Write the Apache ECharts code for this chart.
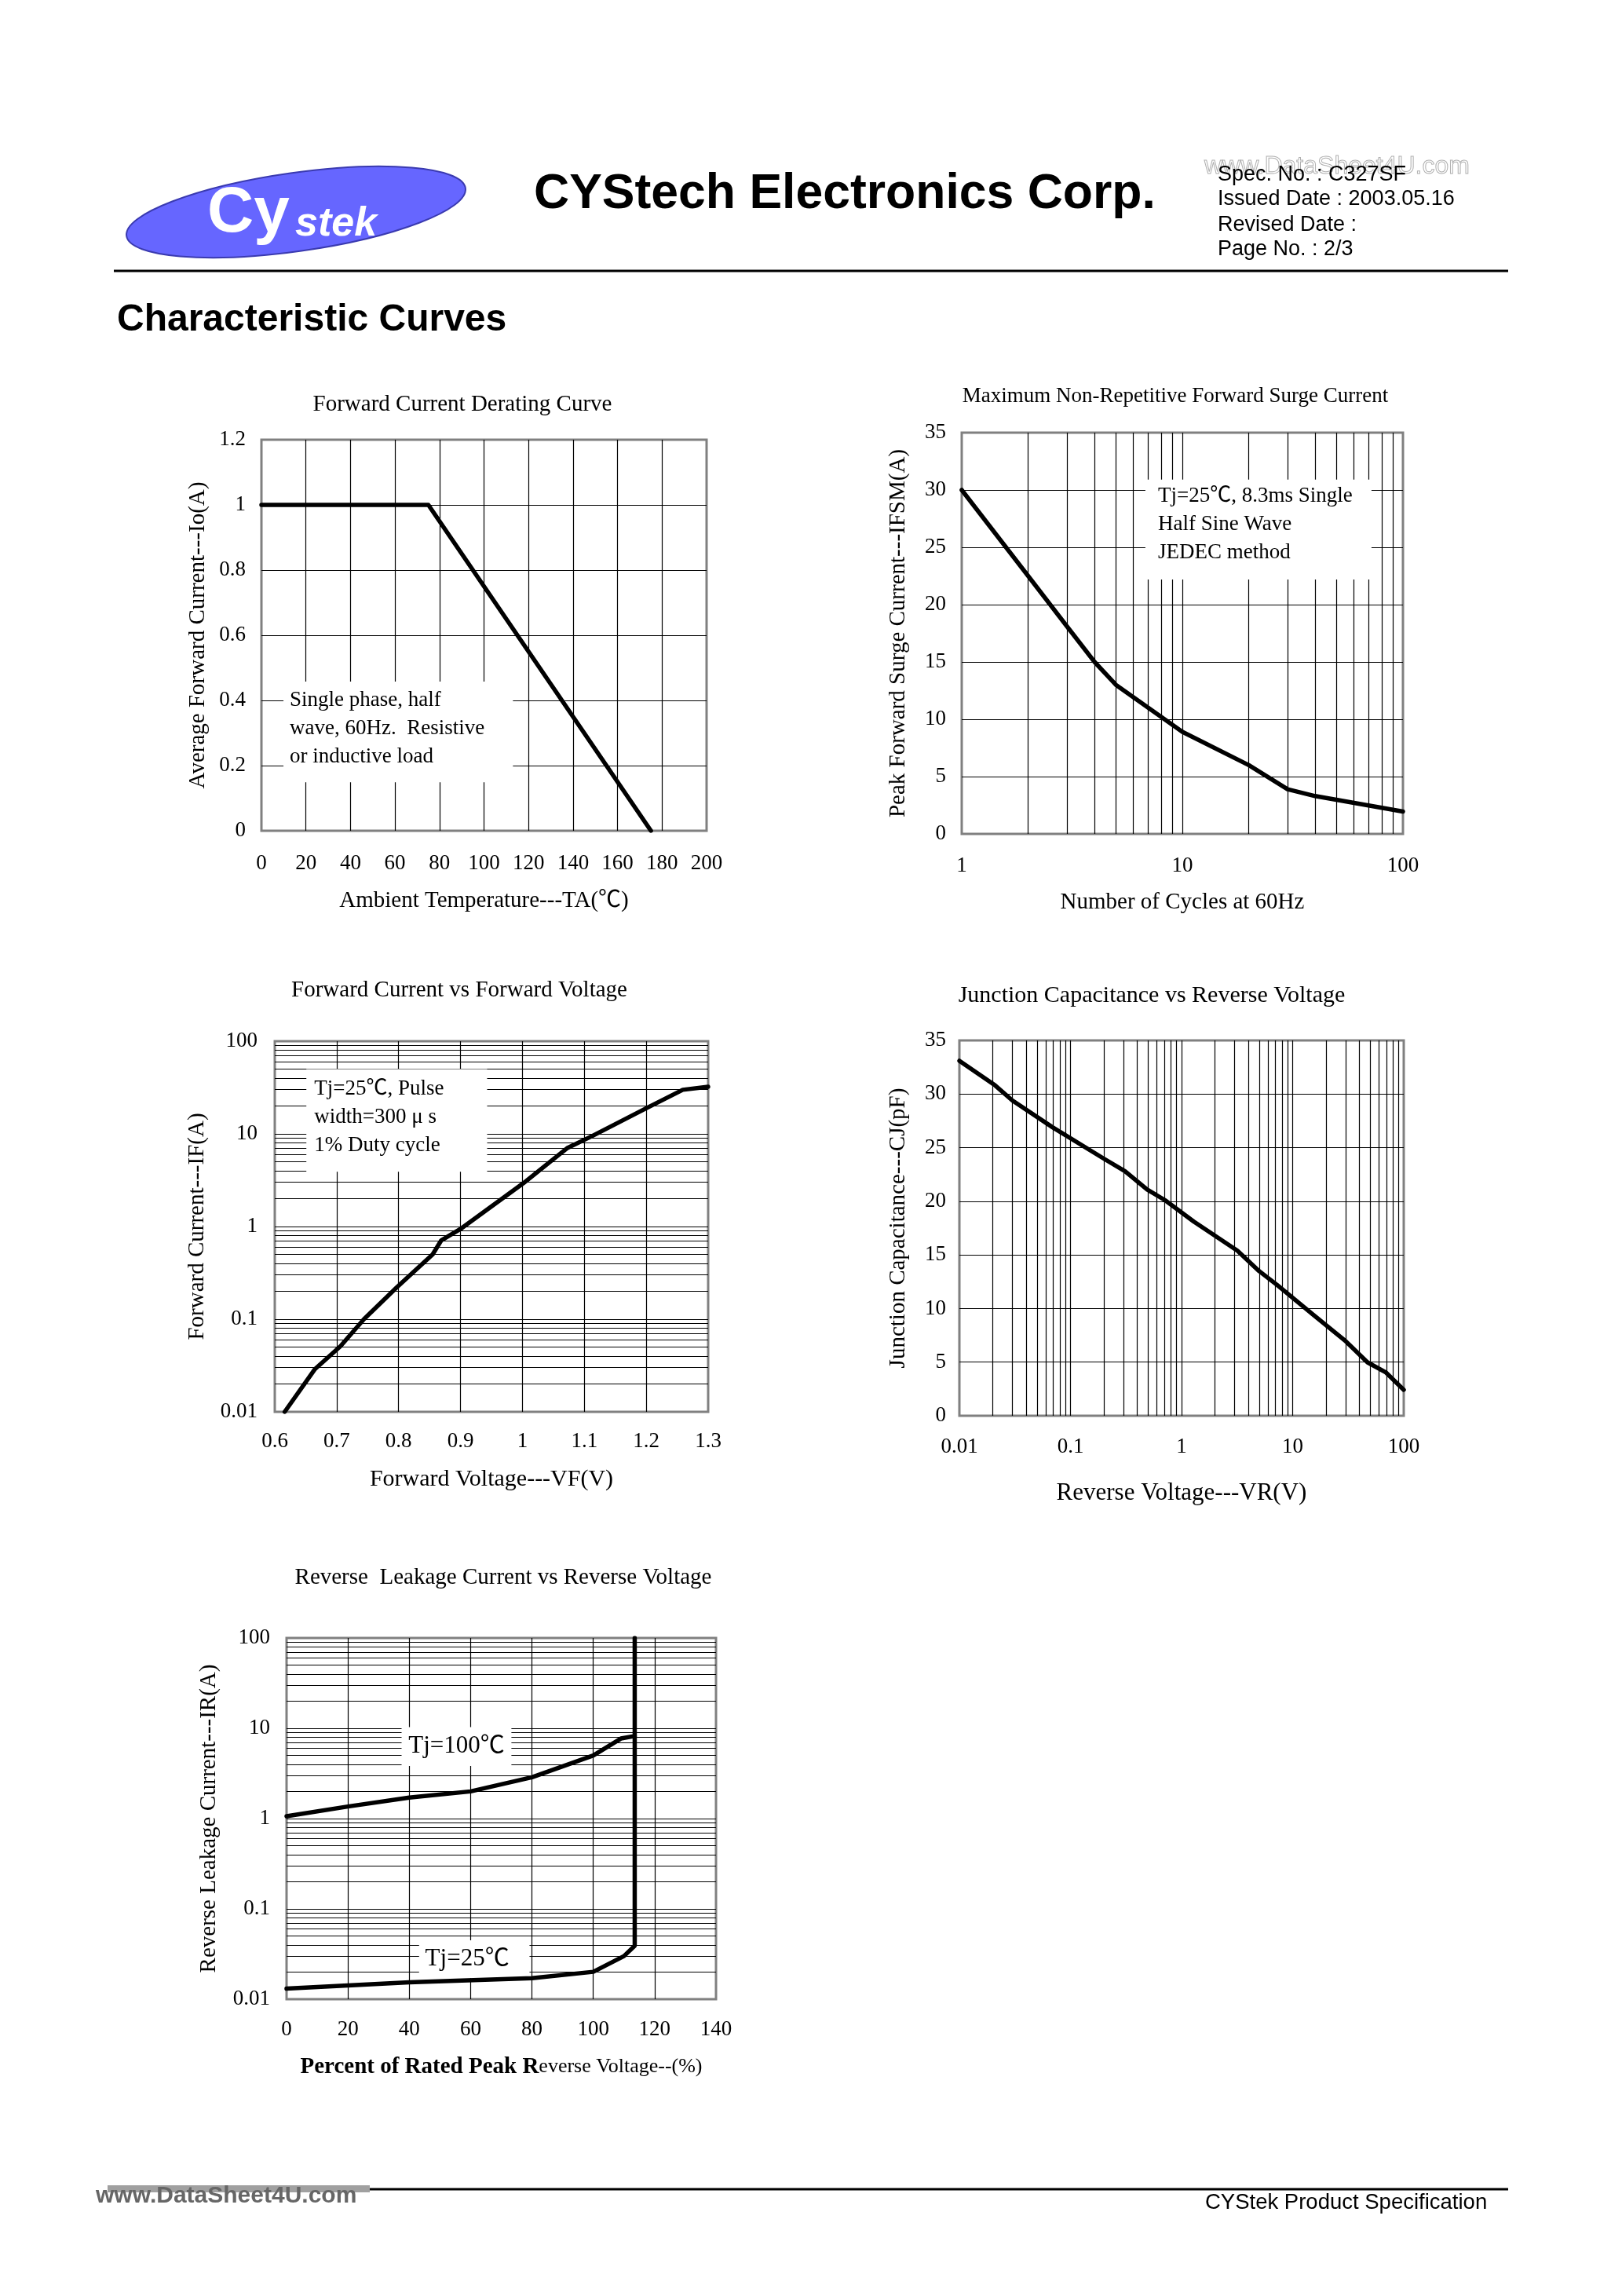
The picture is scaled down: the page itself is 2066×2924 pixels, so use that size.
<!DOCTYPE html>
<html><head><meta charset="utf-8">
<script src="https://cdn.jsdelivr.net/npm/echarts@6.0.0/dist/echarts.min.js"></script>
<style>html,body{margin:0;padding:0;background:#fff}#c{width:2066px;height:2924px}</style>
</head><body><div id="c"></div>
<script>
// ---------------- DATA ----------------
// Chart 1: Forward Current Derating Curve
const derateTemp = [0, 75, 175];
const derateCurrent = [1, 1, 0];
// Chart 2: Maximum Non-Repetitive Forward Surge Current
const surgeCycles = [1, 2, 3, 4, 5, 10, 20, 30, 40, 100];
const surgeCurrent = [30, 22.5, 18.1, 15, 13, 8.9, 6, 3.9, 3.3, 1.95];
// Chart 3: Forward Current vs Forward Voltage
const fwdVoltage = [0.616, 0.665, 0.706, 0.744, 0.797, 0.855, 0.869, 0.902, 1.002, 1.043, 1.072, 1.113, 1.2, 1.259, 1.3];
const fwdCurrent = [0.01, 0.029, 0.051, 0.10, 0.22, 0.50, 0.71, 0.96, 2.95, 4.9, 7.0, 9.5, 18.9, 29.9, 32.2];
// Chart 4: Junction Capacitance vs Reverse Voltage
const capVoltage = [0.01, 0.021, 0.03, 0.069, 0.198, 0.31, 0.49, 0.71, 1.29, 3.18, 4.98, 7.24, 15.4, 30.1, 47.2, 68.7, 100];
const capValue = [33.1, 30.8, 29.4, 26.9, 24.0, 22.8, 21.1, 20.1, 18.1, 15.4, 13.5, 12.2, 9.4, 6.94, 4.98, 4.06, 2.42];
// Chart 5: Reverse Leakage Current vs Reverse Voltage
const leakPct100 = [0, 20, 40, 60, 80, 100, 109, 113.5];
const leakIr100 = [1.06, 1.36, 1.71, 2.0, 2.87, 5.0, 7.7, 8.2];
const leakPct25 = [0, 40, 80, 100, 110, 113.5, 113.5];
const leakIr25 = [0.0131, 0.0154, 0.0171, 0.0201, 0.030, 0.039, 100];

// Texts
const chartTitles = ['Forward Current Derating Curve', 'Maximum Non-Repetitive Forward Surge Current',
  'Forward Current vs Forward Voltage', 'Junction Capacitance vs Reverse Voltage',
  'Reverse  Leakage Current vs Reverse Voltage'];
const xNames = ['Ambient Temperature---TA(℃)', 'Number of Cycles at 60Hz', 'Forward Voltage---VF(V)',
  'Reverse Voltage---VR(V)', '{a|Percent of Rated Peak R}{b|everse Voltage--(%)}'];
const yNames = ['Average Forward Current---Io(A)', 'Peak Forward Surge Current---IFSM(A)', 'Forward Current---IF(A)',
  'Junction Capacitance---CJ(pF)', 'Reverse Leakage Current---IR(A)'];
const note1 = 'Single phase, half\nwave, 60Hz.  Resistive\nor inductive load';
const note2 = 'Tj=25℃, 8.3ms Single\nHalf Sine Wave\nJEDEC method';
const note3 = 'Tj=25℃, Pulse\nwidth=300 μ s\n1% Duty cycle';
const note5a = 'Tj=100℃';
const note5b = 'Tj=25℃';

// ---------------- HELPERS ----------------
const SERIF = '"Liberation Serif", "Noto Sans CJK SC", serif';
const SANS = '"Liberation Sans", Arial, sans-serif';
const zip = (a, b) => a.map((v, i) => [v, b[i]]);
const fmtNum = v => String(+(+v).toPrecision(4));
function logMinors(lo, hi) { // exponent range
  const out = [];
  for (let e = lo; e < hi; e++) for (let m = 2; m <= 9; m++) out.push(+(m * Math.pow(10, e)).toPrecision(3));
  return out;
}
function axis(gi, o) {
  const a = {
    gridIndex: gi, type: o.type || 'value', min: o.min, max: o.max,
    axisLine: { show: false }, axisTick: { show: false },
    splitLine: { show: true, showMinLine: false, showMaxLine: false, lineStyle: { color: '#000', width: 1.2 } },
    axisLabel: { color: '#000', fontFamily: SERIF, fontSize: 27, margin: o.margin, formatter: fmtNum, showMinLabel: true, showMaxLabel: true, hideOverlap: false },
    name: o.name, nameLocation: 'middle', nameGap: o.nameGap, nameMoveOverlap: false,
    nameTextStyle: Object.assign({ color: '#000', fontFamily: SERIF, fontSize: o.nameSize || 29 }, o.nameStyle || {}),
  };
  if (o.interval !== undefined) a.interval = o.interval;
  if (o.type === 'log') a.logBase = 10;
  return a;
}
function gridLines(gi, dim, vals) {
  return {
    type: 'line', xAxisIndex: gi, yAxisIndex: gi, data: [], z: 1, silent: true,
    markLine: {
      silent: true, z: 1, symbol: ['none', 'none'], label: { show: false }, emphasis: { disabled: true },
      lineStyle: { color: '#000', width: 1.2, type: 'solid' },
      data: vals.map(v => ({ [dim]: v }))
    }
  };
}
function whiteBox(gi, boxes) {
  return {
    type: 'line', xAxisIndex: gi, yAxisIndex: gi, data: [], z: 2, silent: true,
    markArea: {
      silent: true, z: 2, emphasis: { disabled: true },
      itemStyle: { color: '#fff', opacity: 1, borderWidth: 0 },
      data: boxes.map(b => [
        { coord: b.from, label: Object.assign({ show: true, color: '#000', fontFamily: SERIF, fontSize: 27, lineHeight: 36, formatter: b.text }, b.label || {}) },
        { coord: b.to }
      ])
    }
  };
}
function curve(gi, data) {
  return {
    type: 'line', xAxisIndex: gi, yAxisIndex: gi, data: data, z: 5, silent: true,
    symbol: 'none', smooth: false, lineStyle: { color: '#000', width: 5.5, cap: 'round', join: 'round' }
  };
}

// ---------------- GRIDS ----------------
const gridBase = { show: true, borderColor: '#808080', borderWidth: 3, backgroundColor: '#fff', containLabel: false, outerBoundsMode: 'none' };
const grids = [
  Object.assign({ left: 333, top: 560, width: 567, height: 498 }, gridBase),
  Object.assign({ left: 1225, top: 551, width: 562, height: 511 }, gridBase),
  Object.assign({ left: 350, top: 1326, width: 552, height: 472 }, gridBase),
  Object.assign({ left: 1222, top: 1325, width: 566, height: 478 }, gridBase),
  Object.assign({ left: 365, top: 2086, width: 547, height: 460 }, gridBase),
];

const xAxes = [
  axis(0, { min: 0, max: 200, interval: 20, margin: 28, name: xNames[0], nameGap: 75 }),
  axis(1, { type: 'log', min: 1, max: 100, margin: 27, name: xNames[1], nameGap: 73 }),
  axis(2, { min: 0.6, max: 1.3, interval: 0.1, margin: 24, name: xNames[2], nameGap: 71, nameSize: 30 }),
  axis(3, { type: 'log', min: 0.01, max: 100, margin: 26, name: xNames[3], nameGap: 83, nameSize: 31 }),
  axis(4, { min: 0, max: 140, interval: 20, margin: 25, name: xNames[4], nameGap: 72,
    nameStyle: { rich: { a: { fontFamily: SERIF, fontSize: 29, fontWeight: 'bold', color: '#000' }, b: { fontFamily: SERIF, fontSize: 26, color: '#000' } } } }),
];
const yAxes = [
  axis(0, { min: 0, max: 1.2, interval: 0.2, margin: 20, name: yNames[0], nameGap: 66 }),
  axis(1, { min: 0, max: 35, interval: 5, margin: 20, name: yNames[1], nameGap: 66 }),
  axis(2, { type: 'log', min: 0.01, max: 100, margin: 22, name: yNames[2], nameGap: 84 }),
  axis(3, { min: 0, max: 35, interval: 5, margin: 17, name: yNames[3], nameGap: 63 }),
  axis(4, { type: 'log', min: 0.01, max: 100, margin: 21, name: yNames[4], nameGap: 84 }),
];

const series = [
  // chart 1
  whiteBox(0, [{ from: [9.9, 0.458], to: [113, 0.149], text: note1, label: { position: [8, 6] } }]),
  curve(0, zip(derateTemp, derateCurrent)),
  // chart 2
  gridLines(1, 'xAxis', logMinors(0, 2)),
  whiteBox(1, [{ from: [6.8, 30.9], to: [72, 22.2], text: note2, label: { position: [16, 3] } }]),
  curve(1, zip(surgeCycles, surgeCurrent)),
  // chart 3
  gridLines(2, 'yAxis', logMinors(-2, 2)),
  whiteBox(2, [{ from: [0.651, 50], to: [0.943, 3.9], text: note3, label: { position: [10, 7] } }]),
  curve(2, zip(fwdVoltage, fwdCurrent)),
  // chart 4
  gridLines(3, 'xAxis', logMinors(-2, 2)),
  curve(3, zip(capVoltage, capValue)),
  // chart 5
  gridLines(4, 'yAxis', logMinors(-2, 2)),
  whiteBox(4, [
    { from: [37.5, 10.3], to: [73.3, 3.82], text: note5a, label: { position: 'inside', fontSize: 31, lineHeight: 36 } },
    { from: [43.2, 0.045], to: [79.2, 0.0171], text: note5b, label: { position: 'inside', fontSize: 31, lineHeight: 36, offset: [-9, 0] } }
  ]),
  curve(4, zip(leakPct100, leakIr100)),
  curve(4, zip(leakPct25, leakIr25)),
];

// ---------------- PAGE GRAPHICS ----------------
function txt(x, y, text, font, fill, align, extra) {
  return Object.assign({ type: 'text', x: x, y: y, silent: true,
    style: { text: text, font: font, fill: fill || '#000', textAlign: align || 'left', textVerticalAlign: 'middle' } }, extra || {});
}
const graphic = [
  // logo
  { type: 'ellipse', x: 377, y: 270, rotation: 0.14, silent: true, shape: { cx: 0, cy: 0, rx: 218, ry: 50 },
    style: { fill: '#6666ff', stroke: '#3a3ab0', lineWidth: 2 } },
  txt(264, 272, 'Cy', 'bold 82px ' + SANS, '#fff'),
  txt(376, 286, 'stek', 'italic bold 52px ' + SANS, '#fff'),
  // company
  txt(680, 248, 'CYStech Electronics Corp.', 'bold 62.5px ' + SANS),
  // watermark (hollow)
  { type: 'text', x: 1534, y: 212, silent: true, style: { text: 'www.DataSheet4U.com', font: '32px ' + SANS, fill: 'none', stroke: '#b0b0b0', lineWidth: 1, textAlign: 'left', textVerticalAlign: 'middle' } },
  txt(1551, 223, 'Spec. No. : C327SF', '27px ' + SANS),
  txt(1551, 254, 'Issued Date : 2003.05.16', '27px ' + SANS),
  txt(1551, 287, 'Revised Date :', '27px ' + SANS),
  txt(1551, 318, 'Page No. : 2/3', '27px ' + SANS),
  { type: 'line', silent: true, shape: { x1: 145, y1: 345, x2: 1921, y2: 345 }, style: { stroke: '#000', lineWidth: 3 } },
  txt(149, 408, 'Characteristic Curves', 'bold 48px ' + SANS),
  // chart titles
  txt(589, 515, chartTitles[0], '29px ' + SERIF, '#000', 'center'),
  txt(1497, 505, chartTitles[1], '27px ' + SERIF, '#000', 'center'),
  txt(585, 1261, chartTitles[2], '29px ' + SERIF, '#000', 'center'),
  txt(1467, 1268, chartTitles[3], '30px ' + SERIF, '#000', 'center'),
  txt(641, 2009, chartTitles[4], '29px ' + SERIF, '#000', 'center'),
  // footer
  { type: 'rect', silent: true, shape: { x: 137, y: 2783, width: 334, height: 9 }, style: { fill: '#a0a0a0' } },
  { type: 'line', silent: true, shape: { x1: 471, y1: 2788, x2: 1921, y2: 2788 }, style: { stroke: '#000', lineWidth: 3 } },
  txt(122, 2797, 'www.DataSheet4U.com', 'bold 30px ' + SANS, '#666'),
  txt(1535, 2805, 'CYStek Product Specification', '27.5px ' + SANS),
];

const chart = echarts.init(document.getElementById('c'), null, { renderer: 'canvas' });
chart.setOption({
  animation: false,
  backgroundColor: '#fff',
  grid: grids,
  xAxis: xAxes,
  yAxis: yAxes,
  series: series,
  graphic: graphic
});
</script>
</body></html>
